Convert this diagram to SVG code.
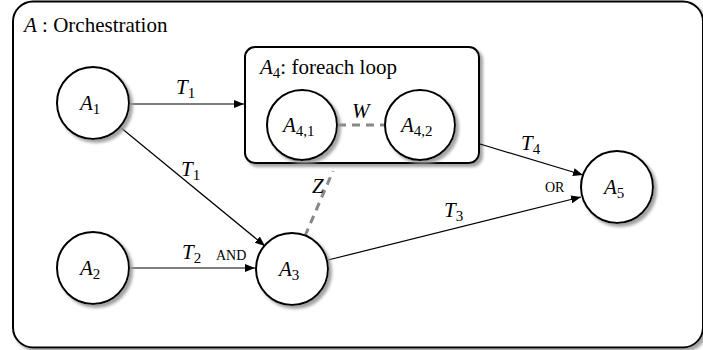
<svg xmlns="http://www.w3.org/2000/svg" width="703" height="350" viewBox="0 0 703 350">
<style>
.t{font-size:21px;fill:#000}
.i{font-style:italic}
.s{font-size:15px;font-style:normal}
.sm{font-size:14px;fill:#000}
.node{fill:#fff;stroke:#000;stroke-width:2}
.edge{stroke:#000;stroke-width:1.2;fill:none}
.dash{stroke:#888;stroke-width:3;stroke-dasharray:8,6;fill:none}
</style>
<defs>
<filter id="sh" x="-20%" y="-20%" width="150%" height="150%">
<feDropShadow dx="3" dy="3" stdDeviation="1.5" flood-color="#999" flood-opacity="0.9"/>
</filter>
<marker id="ar" viewBox="0 0 10 10" refX="10" refY="5" markerWidth="10" markerHeight="10" markerUnits="userSpaceOnUse" orient="auto">
<path d="M0,1 L10,5 L0,9 z" fill="#000"/>
</marker>
</defs>
<g font-family="Liberation Serif, Times New Roman, serif">
<g id="outer">
<rect x="13" y="1.5" width="690" height="346" rx="20" fill="#fff" stroke="#000" stroke-width="2" filter="url(#sh)"/>
<text class="t" x="24" y="32"><tspan class="i">A</tspan> : Orchestration</text>
</g>
<g id="A4">
<rect x="245" y="47" width="234" height="116" rx="10" class="node" filter="url(#sh)"/>
<text class="t" x="260" y="74"><tspan class="i">A</tspan><tspan class="s" dy="4">4</tspan><tspan dy="-4">: foreach loop</tspan></text>
</g>
<g id="connectors">
<line class="edge" x1="129" y1="104" x2="244" y2="104" marker-end="url(#ar)"/>
<line class="edge" x1="120" y1="127" x2="265" y2="246" marker-end="url(#ar)"/>
<line class="edge" x1="129" y1="268" x2="255" y2="268" marker-end="url(#ar)"/>
<line class="edge" x1="328" y1="260" x2="581" y2="197" marker-end="url(#ar)"/>
<line class="edge" x1="480" y1="144" x2="583" y2="175" marker-end="url(#ar)"/>
<line class="dash" x1="305" y1="236" x2="333" y2="171"/>
<line class="dash" x1="338" y1="125" x2="384" y2="125"/>
<text class="t i" x="176" y="94">T<tspan class="s" dy="4">1</tspan></text>
<text class="t i" x="181" y="176">T<tspan class="s" dy="4">1</tspan></text>
<text class="t i" x="182" y="259">T<tspan class="s" dy="4">2</tspan></text>
<text class="t i" x="444" y="217">T<tspan class="s" dy="4">3</tspan></text>
<text class="t i" x="521" y="150">T<tspan class="s" dy="4">4</tspan></text>
<text class="t i" x="352" y="118">W</text>
<text class="t i" x="312" y="193">Z</text>
<text class="sm" x="216" y="260">AND</text>
<text class="sm" x="545" y="192">OR</text>
</g>
<g id="A1">
<circle cx="93" cy="103" r="36" class="node" filter="url(#sh)"/>
<text class="t" x="80" y="110"><tspan class="i">A</tspan><tspan class="s" dy="4">1</tspan></text>
</g>
<g id="A2">
<circle cx="93" cy="268" r="36" class="node" filter="url(#sh)"/>
<text class="t" x="80" y="275"><tspan class="i">A</tspan><tspan class="s" dy="4">2</tspan></text>
</g>
<g id="A3">
<circle cx="292" cy="269" r="36" class="node" filter="url(#sh)"/>
<text class="t" x="279" y="276"><tspan class="i">A</tspan><tspan class="s" dy="4">3</tspan></text>
</g>
<g id="A5">
<circle cx="617" cy="187" r="36" class="node" filter="url(#sh)"/>
<text class="t" x="604" y="194"><tspan class="i">A</tspan><tspan class="s" dy="4">5</tspan></text>
</g>
<g id="A41">
<circle cx="302" cy="125" r="35" class="node" filter="url(#sh)"/>
<text class="t" x="283" y="132"><tspan class="i">A</tspan><tspan class="s" dy="4">4,1</tspan></text>
</g>
<g id="A42">
<circle cx="420" cy="125" r="35" class="node" filter="url(#sh)"/>
<text class="t" x="401" y="132"><tspan class="i">A</tspan><tspan class="s" dy="4">4,2</tspan></text>
</g>
</g>
</svg>
